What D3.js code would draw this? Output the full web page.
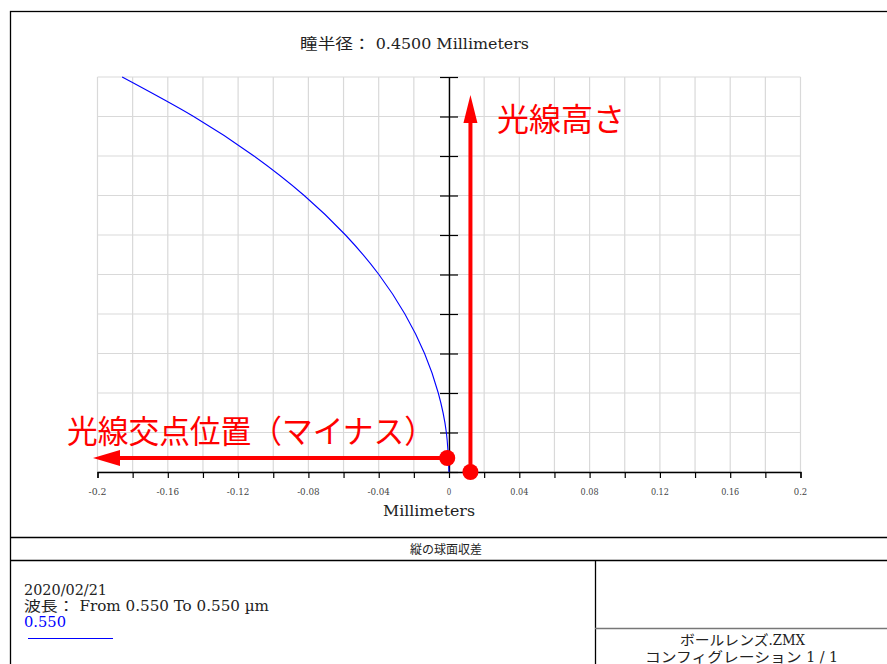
<!DOCTYPE html>
<html>
<head>
<meta charset="utf-8">
<script src="https://cdn.jsdelivr.net/npm/d3@7"></script>
<style>
  body { margin: 0; background: white; }
  svg text { font-family: "DejaVu Serif", "Noto Sans CJK JP", serif; font-stretch: condensed; }
</style>
</head>
<body>
<div id="plot"></div>
<script>
// data: relative pupil height vs. longitudinal aberration (mm)
var pupilHeight = [0, 0.1, 0.2, 0.3, 0.4, 0.5, 0.6, 0.7, 0.8, 0.9, 1.0];
var aberration = [0, -0.0015, -0.0061, -0.0139, -0.0251, -0.0399, -0.0589, -0.0824, -0.1110, -0.1453, -0.1860];
var xTicks = [-0.2, -0.18, -0.16, -0.14, -0.12, -0.1, -0.08, -0.06, -0.04, -0.02, 0,
              0.02, 0.04, 0.06, 0.08, 0.1, 0.12, 0.14, 0.16, 0.18, 0.2];
var xLabelTicks = [-0.2, -0.16, -0.12, -0.08, -0.04, 0, 0.04, 0.08, 0.12, 0.16, 0.2];
var xLabels = ["-0.2", "-0.16", "-0.12", "-0.08", "-0.04", "0", "0.04", "0.08", "0.12", "0.16", "0.2"];
var yTicks = [0, 0.1, 0.2, 0.3, 0.4, 0.5, 0.6, 0.7, 0.8, 0.9, 1.0];

var w = 887, h = 664;

var xScale = d3.scaleLinear().domain([-0.2, 0.2]).range([97.5, 800.5]);
var yScale = d3.scaleLinear().domain([0, 1]).range([472, 77]);

var svg = d3.select("div#plot").append("svg")
    .attr("width", w)
    .attr("height", h);

svg.append("rect").attr("width", w).attr("height", h).attr("fill", "white");

// outer frame
svg.append("rect")
    .attr("x", 10.5).attr("y", 11.5)
    .attr("width", 900).attr("height", 700)
    .attr("fill", "none").attr("stroke", "black").attr("stroke-width", 1.3);

// title
svg.append("text")
    .attr("x", 300).attr("y", 49)
    .attr("font-size", "14.5px")
    .attr("fill", "#222")
    .attr("textLength", 229)
    .attr("lengthAdjust", "spacingAndGlyphs")
    .text("瞳半径： 0.4500 Millimeters");

// grid
var grid = svg.append("g").attr("stroke", "#d9d9d9").attr("stroke-width", 1.2);
grid.selectAll("line.v").data(xTicks).enter().append("line")
    .attr("class", "v")
    .attr("x1", d => xScale(d)).attr("x2", d => xScale(d))
    .attr("y1", yScale(1)).attr("y2", yScale(0));
grid.selectAll("line.h").data(yTicks).enter().append("line")
    .attr("class", "h")
    .attr("x1", xScale(-0.2)).attr("x2", xScale(0.2))
    .attr("y1", d => yScale(d)).attr("y2", d => yScale(d));

// x axis
var xAxis = d3.axisBottom(xScale)
    .tickValues(xTicks)
    .tickSize(6)
    .tickFormat("");
var gx = svg.append("g")
    .attr("transform", `translate(0, ${yScale(0)})`)
    .call(xAxis);
gx.select(".domain").attr("stroke", "black").attr("stroke-width", 1.3);
gx.selectAll(".tick line").attr("stroke", "black").attr("stroke-width", 1.2);

svg.append("g").selectAll("text").data(xLabelTicks).enter().append("text")
    .attr("x", d => xScale(d))
    .attr("y", 495)
    .attr("text-anchor", "middle")
    .attr("font-size", "10px")
    .attr("fill", "#444")
    .attr("textLength", (d, i) => xLabels[i].length * 4.5)
    .attr("lengthAdjust", "spacingAndGlyphs")
    .text((d, i) => xLabels[i]);

svg.append("text")
    .attr("x", 383).attr("y", 516)
    .attr("font-size", "14px")
    .attr("fill", "#222")
    .attr("textLength", 92)
    .attr("lengthAdjust", "spacingAndGlyphs")
    .text("Millimeters");

// y axis at x = 0, ticks on both sides
var gyL = svg.append("g")
    .attr("transform", `translate(${xScale(0)}, 0)`)
    .call(d3.axisLeft(yScale).tickValues(yTicks).tickSize(9).tickFormat(""));
var gyR = svg.append("g")
    .attr("transform", `translate(${xScale(0)}, 0)`)
    .call(d3.axisRight(yScale).tickValues(yTicks).tickSize(9).tickFormat(""));
[gyL, gyR].forEach(g => {
  g.select(".domain").attr("stroke", "black").attr("stroke-width", 1.2);
  g.selectAll(".tick line").attr("stroke", "black").attr("stroke-width", 1.2);
});

// aberration curve
var line = d3.line()
    .x((d, i) => xScale(aberration[i]))
    .y(d => yScale(d))
    .curve(d3.curveNatural);
svg.append("path")
    .datum(pupilHeight)
    .attr("d", line)
    .attr("fill", "none")
    .attr("stroke", "#0000ff")
    .attr("stroke-width", 1.1);

// red annotations
var red = "#ff0000";
var ann = svg.append("g");

// vertical arrow (ray height)
var vx = xScale(0.0122);
ann.append("line")
    .attr("x1", vx).attr("x2", vx)
    .attr("y1", yScale(0)).attr("y2", 118)
    .attr("stroke", red).attr("stroke-width", 4);
ann.append("path")
    .attr("d", `M${vx},95 L${vx - 7},123 L${vx + 7},123 Z`)
    .attr("fill", red);
ann.append("circle")
    .attr("cx", vx).attr("cy", yScale(0)).attr("r", 8)
    .attr("fill", red);
ann.append("text")
    .attr("x", 497).attr("y", 131)
    .attr("font-family", "'Noto Sans CJK JP', sans-serif")
    .attr("font-size", "32px")
    .attr("fill", red)
    .text("光線高さ");

// horizontal arrow (intersection, negative)
var hy = 458;
ann.append("line")
    .attr("x1", xScale(-0.001)).attr("x2", 115)
    .attr("y1", hy).attr("y2", hy)
    .attr("stroke", red).attr("stroke-width", 4);
ann.append("path")
    .attr("d", `M93,${hy} L120,${hy - 8} L120,${hy + 8} Z`)
    .attr("fill", red);
ann.append("circle")
    .attr("cx", xScale(-0.001)).attr("cy", hy).attr("r", 8)
    .attr("fill", red);
ann.append("text")
    .attr("x", 67).attr("y", 443)
    .attr("font-family", "'Noto Sans CJK JP', sans-serif")
    .attr("font-size", "32px")
    .attr("fill", red)
    .attr("textLength", 368)
    .attr("lengthAdjust", "spacingAndGlyphs")
    .text("光線交点位置（マイナス）");

// bottom info panel
var panel = svg.append("g").attr("stroke", "black").attr("stroke-width", 1.3);
panel.append("line").attr("x1", 10).attr("x2", w).attr("y1", 537.5).attr("y2", 537.5);
panel.append("line").attr("x1", 10).attr("x2", w).attr("y1", 560.5).attr("y2", 560.5);
panel.append("line").attr("x1", 595.5).attr("x2", 595.5).attr("y1", 560).attr("y2", h);
panel.append("line").attr("x1", 595).attr("x2", w).attr("y1", 628.5).attr("y2", 628.5)
    .attr("stroke", "#777");

svg.append("text")
    .attr("x", 446).attr("y", 554)
    .attr("text-anchor", "middle")
    .attr("font-size", "12px")
    .attr("fill", "#222")
    .text("縦の球面収差");

var info = [
  {t: "2020/02/21", y: 595, c: "#222", len: 83},
  {t: "波長： From 0.550 To 0.550 µm", y: 611, c: "#222", len: 245},
  {t: "0.550", y: 627, c: "#0000ff", len: 42}
];
svg.append("g").selectAll("text").data(info).enter().append("text")
    .attr("x", 24).attr("y", d => d.y)
    .attr("font-size", "14px")
    .attr("fill", d => d.c)
    .attr("textLength", d => d.len)
    .attr("lengthAdjust", "spacingAndGlyphs")
    .text(d => d.t);
svg.append("line")
    .attr("x1", 28).attr("x2", 113).attr("y1", 638.5).attr("y2", 638.5)
    .attr("stroke", "#0000ff").attr("stroke-width", 1);

svg.append("text")
    .attr("x", 680).attr("y", 645)
    .attr("font-size", "14px")
    .attr("fill", "#222")
    .attr("textLength", 125)
    .attr("lengthAdjust", "spacingAndGlyphs")
    .text("ボールレンズ.ZMX");
svg.append("text")
    .attr("x", 645).attr("y", 662)
    .attr("font-size", "14px")
    .attr("fill", "#222")
    .attr("textLength", 193)
    .attr("lengthAdjust", "spacingAndGlyphs")
    .text("コンフィグレーション 1 / 1");
</script>
</body>
</html>
